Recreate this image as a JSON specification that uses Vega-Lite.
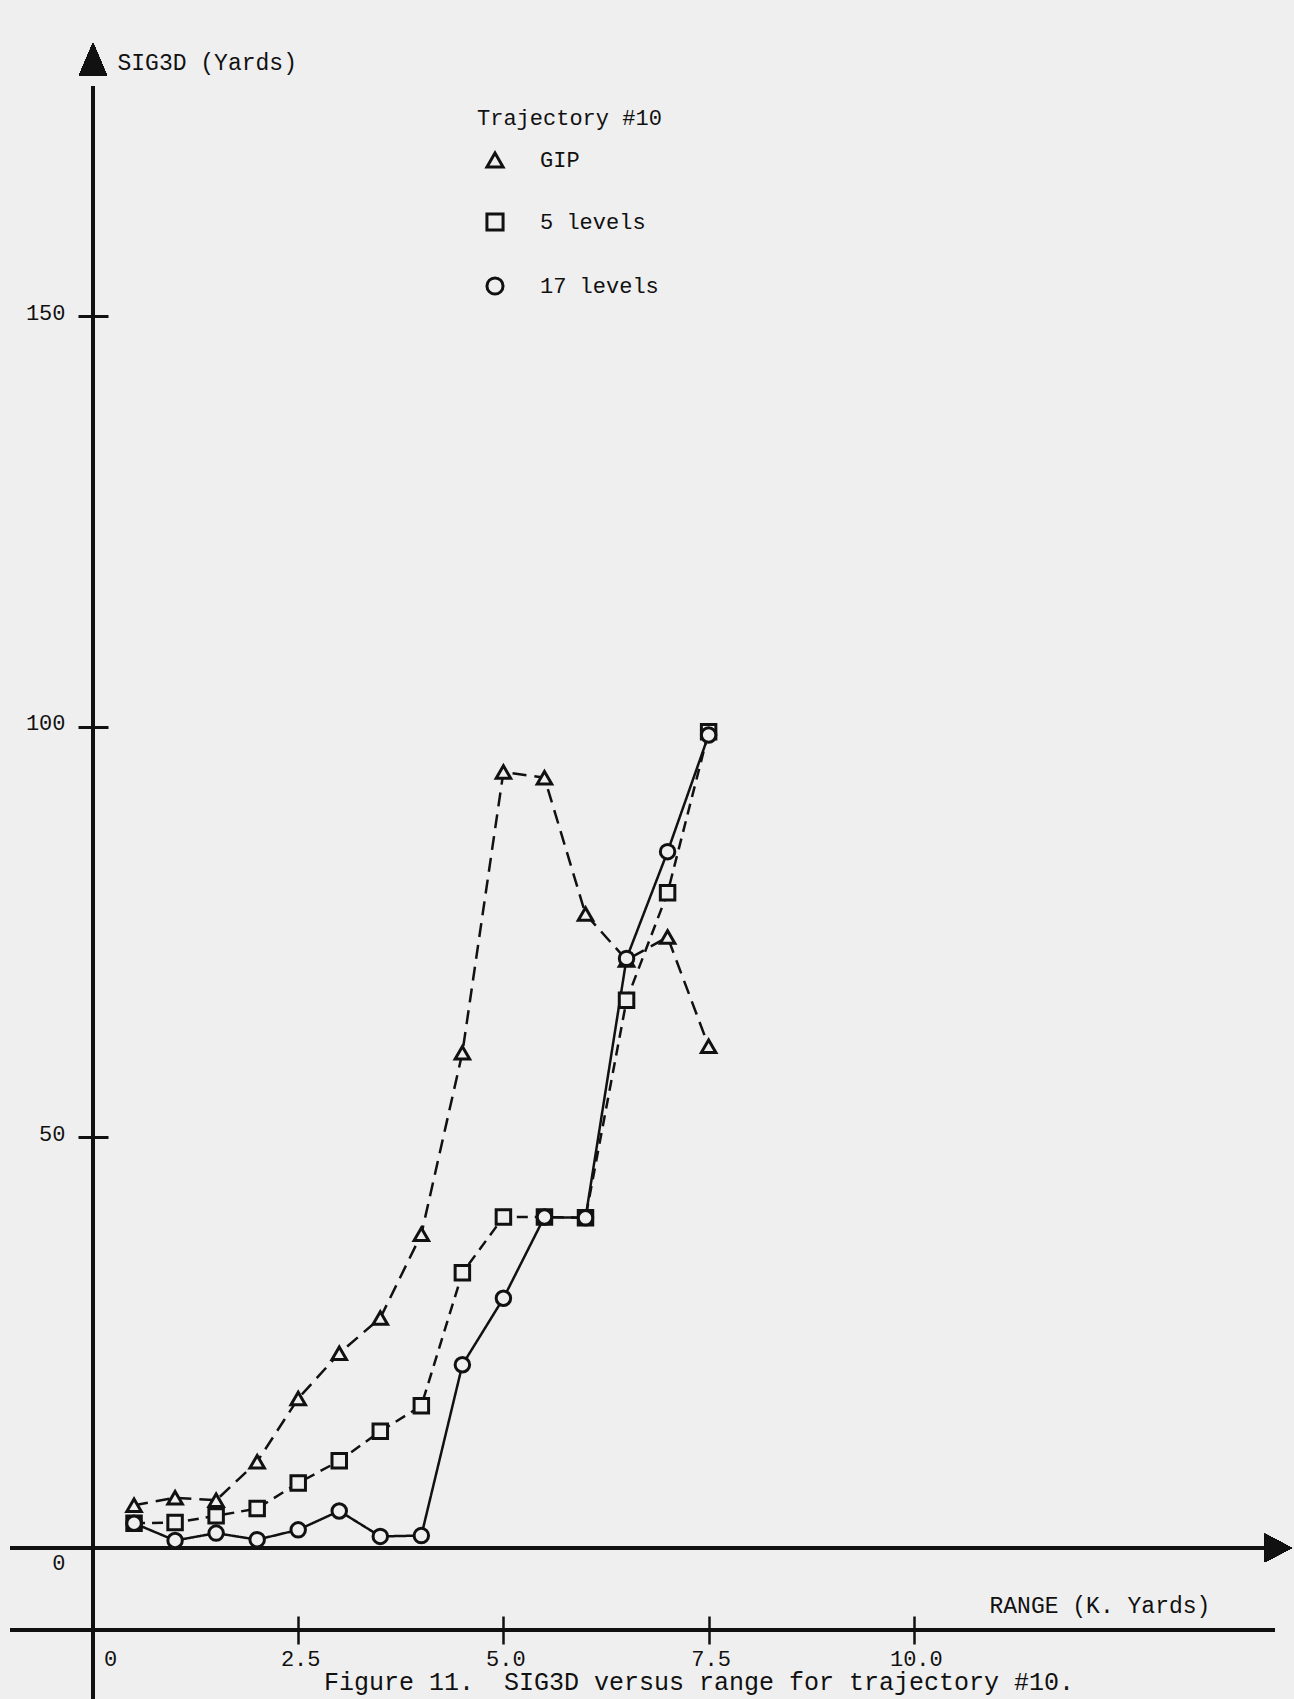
{
  "$schema": "https://vega.github.io/schema/vega-lite/v6.json",
  "width": 1182,
  "height": 1560,
  "autosize": {"type": "none"},
  "padding": {"left": 93, "top": 70, "right": 19, "bottom": 69},
  "background": "#efefef",
  "config": {"view": {"stroke": null}, "font": "Liberation Mono"},
  "title": {
    "text": "Figure 11.\u00a0 SIG3D versus range for trajectory #10.",
    "orient": "bottom",
    "anchor": "middle",
    "frame": "group",
    "dx": 15,
    "offset": -30,
    "font": "Liberation Mono",
    "fontSize": 25,
    "fontWeight": "normal",
    "color": "#111111"
  },
  "datasets": {
    "obs": [
      {"series": "GIP", "range": 0.5, "sig3d": 5.2},
      {"series": "GIP", "range": 1.0, "sig3d": 6.1},
      {"series": "GIP", "range": 1.5, "sig3d": 5.8},
      {"series": "GIP", "range": 2.0, "sig3d": 10.5},
      {"series": "GIP", "range": 2.5, "sig3d": 18.2},
      {"series": "GIP", "range": 3.0, "sig3d": 23.7},
      {"series": "GIP", "range": 3.5, "sig3d": 28.0},
      {"series": "GIP", "range": 4.0, "sig3d": 38.2},
      {"series": "GIP", "range": 4.5, "sig3d": 60.3},
      {"series": "GIP", "range": 5.0, "sig3d": 94.5},
      {"series": "GIP", "range": 5.5, "sig3d": 93.8},
      {"series": "GIP", "range": 6.0, "sig3d": 77.2},
      {"series": "GIP", "range": 6.5, "sig3d": 71.6},
      {"series": "GIP", "range": 7.0, "sig3d": 74.4},
      {"series": "GIP", "range": 7.5, "sig3d": 61.1},
      {"series": "5 levels", "range": 0.5, "sig3d": 3.0},
      {"series": "5 levels", "range": 1.0, "sig3d": 3.1},
      {"series": "5 levels", "range": 1.5, "sig3d": 3.9},
      {"series": "5 levels", "range": 2.0, "sig3d": 4.8},
      {"series": "5 levels", "range": 2.5, "sig3d": 7.9},
      {"series": "5 levels", "range": 3.0, "sig3d": 10.6},
      {"series": "5 levels", "range": 3.5, "sig3d": 14.2},
      {"series": "5 levels", "range": 4.0, "sig3d": 17.3},
      {"series": "5 levels", "range": 4.5, "sig3d": 33.5},
      {"series": "5 levels", "range": 5.0, "sig3d": 40.3},
      {"series": "5 levels", "range": 5.5, "sig3d": 40.3},
      {"series": "5 levels", "range": 6.0, "sig3d": 40.2},
      {"series": "5 levels", "range": 6.5, "sig3d": 66.7},
      {"series": "5 levels", "range": 7.0, "sig3d": 79.8},
      {"series": "5 levels", "range": 7.5, "sig3d": 99.4},
      {"series": "17 levels", "range": 0.5, "sig3d": 3.0},
      {"series": "17 levels", "range": 1.0, "sig3d": 0.9},
      {"series": "17 levels", "range": 1.5, "sig3d": 1.8},
      {"series": "17 levels", "range": 2.0, "sig3d": 1.0},
      {"series": "17 levels", "range": 2.5, "sig3d": 2.2},
      {"series": "17 levels", "range": 3.0, "sig3d": 4.5},
      {"series": "17 levels", "range": 3.5, "sig3d": 1.4},
      {"series": "17 levels", "range": 4.0, "sig3d": 1.5},
      {"series": "17 levels", "range": 4.5, "sig3d": 22.3},
      {"series": "17 levels", "range": 5.0, "sig3d": 30.4},
      {"series": "17 levels", "range": 5.5, "sig3d": 40.3},
      {"series": "17 levels", "range": 6.0, "sig3d": 40.2},
      {"series": "17 levels", "range": 6.5, "sig3d": 71.8},
      {"series": "17 levels", "range": 7.0, "sig3d": 84.8},
      {"series": "17 levels", "range": 7.5, "sig3d": 99.0}
    ]
  },
  "data": {"name": "obs"},
  "layer": [
    {
      "mark": {"type": "rule", "color": "#111111", "strokeWidth": 3},
      "encoding": {
        "x": {"datum": 0, "type": "quantitative"},
        "y": {"datum": -18.4, "type": "quantitative"},
        "y2": {"datum": 178}
      }
    },
    {
      "mark": {"type": "rule", "color": "#111111", "strokeWidth": 3.5},
      "encoding": {
        "y": {"datum": 0, "type": "quantitative"},
        "x": {"datum": -1.0, "type": "quantitative"},
        "x2": {"datum": 14.3}
      }
    },
    {
      "mark": {"type": "rule", "color": "#111111", "strokeWidth": 3.5},
      "encoding": {
        "y": {"datum": -10, "type": "quantitative"},
        "x": {"datum": -1.0, "type": "quantitative"},
        "x2": {"datum": 14.4}
      }
    },
    {
      "mark": {"type": "point", "filled": true, "color": "#111111", "opacity": 1, "size": 1089, "shape": "M-0.85,1L0.85,1L0,-1Z"},
      "encoding": {
        "x": {"datum": 0, "type": "quantitative"},
        "y": {"datum": 181.3, "type": "quantitative"}
      }
    },
    {
      "mark": {"type": "point", "filled": true, "color": "#111111", "opacity": 1, "size": 729, "shape": "M-1,-1.05L1,0L-1,1.05Z"},
      "encoding": {
        "x": {"datum": 14.44, "type": "quantitative"},
        "y": {"datum": 0, "type": "quantitative"}
      }
    },
    {
      "mark": {"type": "line", "color": "#111111", "strokeWidth": 2.5},
      "encoding": {
        "x": {
          "field": "range",
          "type": "quantitative",
          "scale": {"domain": [0, 14.4], "nice": false, "zero": false},
          "axis": {
            "values": [0, 2.5, 5, 7.5, 10],
            "labelExpr": "datum.value == 0 ? '0' : format(datum.value, '.1f')",
            "domain": false,
            "grid": false,
            "offset": -14,
            "tickSize": 28,
            "tickWidth": 2.5,
            "tickColor": "#111111",
            "tickOpacity": {"condition": {"test": "datum.value == 0", "value": 0}, "value": 1},
            "labelOffset": {"condition": {"test": "datum.value == 0", "value": 17}, "value": 2},
            "labelPadding": 4,
            "labelFont": "Liberation Mono",
            "labelFontSize": 22,
            "labelColor": "#111111",
            "labelFlush": false,
            "labelOverlap": false,
            "title": "RANGE (K. Yards)",
            "titleFont": "Liberation Mono",
            "titleFontSize": 23,
            "titleFontWeight": "normal",
            "titleColor": "#111111",
            "titleAngle": 0,
            "titleAlign": "left",
            "titleBaseline": "middle",
            "titleX": 896,
            "titleY": -11
          }
        },
        "y": {
          "field": "sig3d",
          "type": "quantitative",
          "scale": {"domain": [-10, 180], "nice": false, "zero": false},
          "axis": {
            "values": [0, 50, 100, 150],
            "format": "d",
            "domain": false,
            "grid": false,
            "offset": -15,
            "tickSize": 30,
            "tickWidth": 3,
            "tickColor": "#111111",
            "tickOpacity": {"condition": {"test": "datum.value == 0", "value": 0}, "value": 1},
            "labelOffset": {"condition": {"test": "datum.value == 0", "value": 15}, "value": -4},
            "labelPadding": 13,
            "labelFont": "Liberation Mono",
            "labelFontSize": 22,
            "labelColor": "#111111",
            "labelFlush": false,
            "labelOverlap": false,
            "title": "SIG3D (Yards)",
            "titleFont": "Liberation Mono",
            "titleFontSize": 23,
            "titleFontWeight": "normal",
            "titleColor": "#111111",
            "titleAngle": 0,
            "titleAlign": "left",
            "titleBaseline": "middle",
            "titleX": 9,
            "titleY": -8
          }
        },
        "detail": {"field": "series"},
        "strokeDash": {
          "field": "series",
          "type": "nominal",
          "scale": {"domain": ["17 levels", "5 levels", "GIP"], "range": [[1, 0], [11, 7], [14, 8]]},
          "legend": null
        }
      }
    },
    {
      "mark": {"type": "point", "filled": false, "fill": "#efefef", "color": "#111111", "strokeWidth": 3, "size": 210, "opacity": 1},
      "encoding": {
        "x": {"field": "range", "type": "quantitative"},
        "y": {"field": "sig3d", "type": "quantitative"},
        "shape": {
          "field": "series",
          "type": "nominal",
          "scale": {"domain": ["GIP", "5 levels", "17 levels"], "range": ["triangle-up", "square", "circle"]},
          "legend": {
            "orient": "none",
            "legendX": 384,
            "legendY": 38,
            "padding": 0,
            "title": "Trajectory #10",
            "titleLimit": 500,
            "titleFont": "Liberation Mono",
            "titleFontSize": 22,
            "titleFontWeight": "normal",
            "titleColor": "#111111",
            "titlePadding": 19,
            "labelFont": "Liberation Mono",
            "labelFontSize": 22,
            "labelColor": "#111111",
            "labelLimit": 400,
            "symbolSize": 260,
            "symbolStrokeWidth": 3,
            "symbolOffset": 7,
            "labelOffset": 34,
            "rowPadding": 34
          }
        }
      }
    }
  ]
}
